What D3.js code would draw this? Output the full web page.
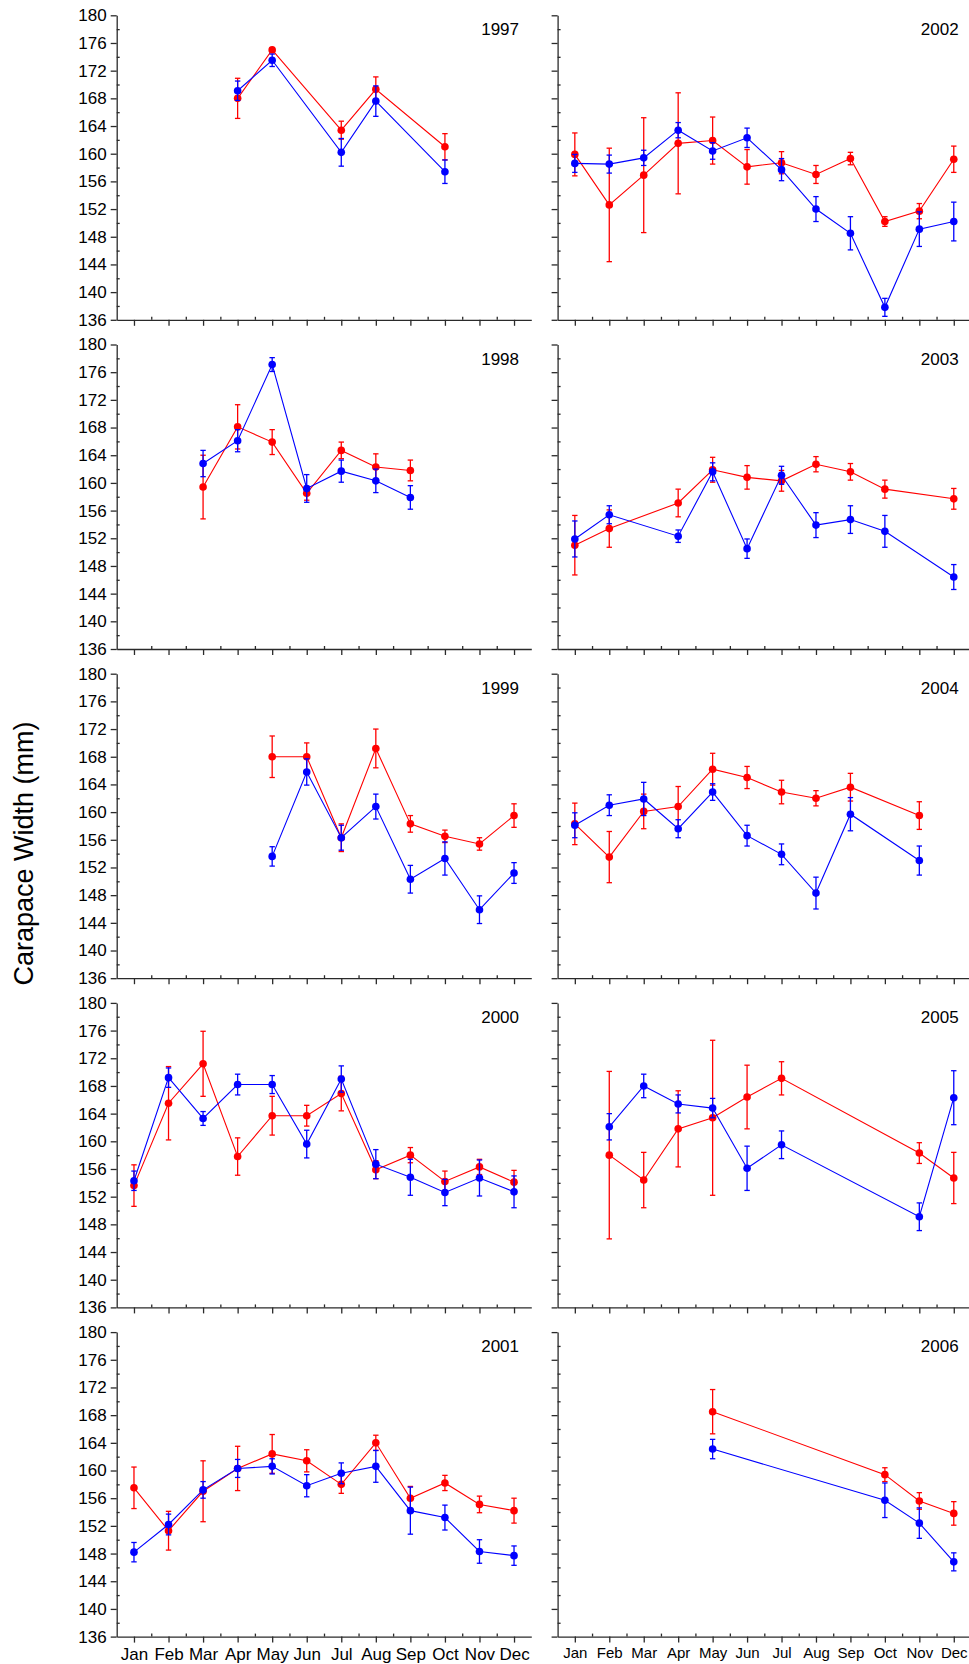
<!DOCTYPE html>
<html>
<head>
<meta charset="utf-8">
<script src="https://cdnjs.cloudflare.com/ajax/libs/d3/7.8.5/d3.min.js"></script>
<style>
  body { margin: 0; background: #fff; }
  text { font-family: "Liberation Sans", Arial, sans-serif; fill: #000; }
</style>
</head>
<body>
<div id="chart"></div>
<script>
var months = ["Jan", "Feb", "Mar", "Apr", "May", "Jun", "Jul", "Aug", "Sep", "Oct", "Nov", "Dec"];
var yTicks = [136, 140, 144, 148, 152, 156, 160, 164, 168, 172, 176, 180];
var leftYears = [1997, 1998, 1999, 2000, 2001];
var rightYears = [2002, 2003, 2004, 2005, 2006];

// mean carapace width per month (null = no sample), red and blue series, with error bars
var red1997     = [null, null, null, 168.0, 175.0, null, 163.4, 169.3, null, 161.0, null, null];
var redErr1997  = [null, null, null, 2.9, 0.3, null, 1.3, 1.8, null, 1.9, null, null];
var blue1997    = [null, null, null, 169.1, 173.5, null, 160.2, 167.6, null, 157.4, null, null];
var blueErr1997 = [null, null, null, 1.4, 0.9, null, 2.0, 2.2, null, 1.7, null, null];

var red1998     = [null, null, 159.4, 168.1, 165.9, 158.5, 164.7, 162.3, 161.8, null, null, null];
var redErr1998  = [null, null, 4.6, 3.2, 1.8, 1.0, 1.2, 1.9, 1.5, null, null, null];
var blue1998    = [null, null, 162.8, 166.1, 177.1, 159.2, 161.7, 160.3, 157.9, null, null, null];
var blueErr1998 = [null, null, 1.9, 1.6, 1.0, 2.0, 1.6, 1.7, 1.7, null, null, null];

var red1999     = [null, null, null, null, 168.0, 168.0, 156.3, 169.2, 158.3, 156.5, 155.4, 159.5];
var redErr1999  = [null, null, null, null, 3.0, 2.0, 2.0, 2.8, 1.2, 0.9, 0.9, 1.7];
var blue1999    = [null, null, null, null, 153.6, 165.8, 156.3, 160.8, 150.3, 153.3, 145.9, 151.2];
var blueErr1999 = [null, null, null, null, 1.4, 1.9, 1.8, 1.8, 2.0, 2.4, 2.0, 1.5];

var red2000     = [153.6, 165.5, 171.2, 157.8, 163.7, 163.7, 166.9, 155.9, 158.0, 154.2, 156.3, 154.1];
var redErr2000  = [3.0, 5.3, 4.7, 2.7, 2.8, 1.5, 2.5, 1.3, 1.1, 1.5, 1.1, 1.7];
var blue2000    = [154.3, 169.2, 163.3, 168.2, 168.2, 159.6, 169.0, 156.7, 154.8, 152.6, 154.7, 152.7];
var blueErr2000 = [1.4, 1.4, 1.0, 1.5, 1.3, 2.0, 1.9, 2.1, 2.6, 1.9, 2.6, 2.3];

var red2001     = [157.5, 151.3, 157.0, 160.3, 162.4, 161.4, 158.0, 164.0, 156.0, 158.2, 155.1, 154.2];
var redErr2001  = [3.0, 2.8, 4.4, 3.2, 2.8, 1.6, 1.3, 1.1, 1.7, 1.1, 1.2, 1.8];
var blue2001    = [148.2, 152.2, 157.2, 160.3, 160.6, 157.8, 159.6, 160.6, 154.2, 153.2, 148.3, 147.7];
var blueErr2001 = [1.4, 1.5, 1.2, 1.3, 1.1, 1.6, 1.5, 2.3, 3.4, 1.8, 1.7, 1.4];

var red2002     = [159.9, 152.6, 156.9, 161.5, 161.9, 158.1, 158.7, 157.0, 159.3, 150.2, 151.7, 159.2];
var redErr2002  = [3.1, 8.2, 8.3, 7.3, 3.4, 2.5, 1.6, 1.3, 0.9, 0.7, 1.1, 1.9];
var blue2002    = [158.6, 158.5, 159.4, 163.4, 160.4, 162.3, 157.7, 152.0, 148.5, 137.8, 149.1, 150.2];
var blueErr2002 = [1.3, 1.3, 1.1, 1.1, 1.2, 1.4, 1.6, 1.8, 2.4, 1.3, 2.5, 2.8];

var red2003     = [151.0, 153.4, null, 157.1, 161.9, 160.8, 160.3, 162.7, 161.6, 159.1, null, 157.7];
var redErr2003  = [4.3, 2.7, null, 2.0, 1.8, 1.7, 1.5, 1.1, 1.2, 1.3, null, 1.5];
var blue2003    = [151.9, 155.4, null, 152.3, 161.6, 150.5, 161.1, 153.9, 154.7, 153.0, null, 146.4];
var blueErr2003 = [2.6, 1.3, null, 0.9, 1.3, 1.4, 1.3, 1.8, 2.0, 2.3, null, 1.8];

var red2004     = [158.3, 153.5, 160.1, 160.8, 166.2, 165.0, 162.9, 162.0, 163.6, null, 159.5, null];
var redErr2004  = [3.0, 3.7, 2.5, 2.9, 2.3, 1.6, 1.7, 1.1, 2.0, null, 2.0, null];
var blue2004    = [158.1, 161.0, 161.9, 157.6, 162.9, 156.6, 153.9, 148.3, 159.7, null, 153.0, null];
var blueErr2004 = [1.8, 1.5, 2.4, 1.3, 1.2, 1.5, 1.5, 2.3, 2.4, null, 2.1, null];

var red2005     = [null, 158.0, 154.4, 161.8, 163.4, 166.4, 169.1, null, null, null, 158.3, 154.7];
var redErr2005  = [null, 12.1, 4.0, 5.5, 11.2, 4.6, 2.4, null, null, null, 1.5, 3.7];
var blue2005    = [null, 162.1, 168.0, 165.4, 164.8, 156.1, 159.5, null, null, null, 149.1, 166.3];
var blueErr2005 = [null, 1.9, 1.7, 1.3, 1.4, 3.2, 2.0, null, null, null, 2.0, 3.9];

var red2006     = [null, null, null, null, 168.5, null, null, null, null, 159.4, 155.6, 153.8];
var redErr2006  = [null, null, null, null, 3.2, null, null, null, null, 1.0, 1.2, 1.7];
var blue2006    = [null, null, null, null, 163.1, null, null, null, null, 155.7, 152.4, 146.8];
var blueErr2006 = [null, null, null, null, 1.4, null, null, null, null, 2.5, 2.2, 1.3];

var panels = {
    1997: [red1997, redErr1997, blue1997, blueErr1997],
    1998: [red1998, redErr1998, blue1998, blueErr1998],
    1999: [red1999, redErr1999, blue1999, blueErr1999],
    2000: [red2000, redErr2000, blue2000, blueErr2000],
    2001: [red2001, redErr2001, blue2001, blueErr2001],
    2002: [red2002, redErr2002, blue2002, blueErr2002],
    2003: [red2003, redErr2003, blue2003, blueErr2003],
    2004: [red2004, redErr2004, blue2004, blueErr2004],
    2005: [red2005, redErr2005, blue2005, blueErr2005],
    2006: [red2006, redErr2006, blue2006, blueErr2006]
};

function init() {
    var w = 969;
    var h = 1664;
    var panelH = 304.5;
    var rowStep = 329.2;
    var top0 = 15.3;
    var axisColor = "#2a2a2a";

    var svg = d3.select("#chart")
                .append("svg")
                .attr("width", w)
                .attr("height", h)
                .style("display", "block");

    svg.append("rect")
       .attr("width", w)
       .attr("height", h)
       .attr("fill", "#fff");

    var xLeft = d3.scaleLinear().domain([0.5, 12.5]).range([116.7, 531.3]);
    var xRight = d3.scaleLinear().domain([0.5, 12.5]).range([557.6, 971]);

    function toPoints(vals, errs) {
        var pts = [];
        vals.forEach(function(v, i) {
            if (v !== null) pts.push({ m: i + 1, v: v, e: errs[i] });
        });
        return pts;
    }

    function drawSeries(g, x, y, pts, color) {
        var cap = 2.7;
        var eb = g.append("g");
        pts.forEach(function(d) {
            var cx = x(d.m);
            eb.append("line")
              .attr("x1", cx).attr("x2", cx)
              .attr("y1", y(d.v - d.e)).attr("y2", y(d.v + d.e))
              .attr("stroke", color).attr("stroke-width", 1.3);
            [d.v - d.e, d.v + d.e].forEach(function(t) {
                eb.append("line")
                  .attr("x1", cx - cap).attr("x2", cx + cap)
                  .attr("y1", y(t)).attr("y2", y(t))
                  .attr("stroke", color).attr("stroke-width", 1.3);
            });
        });

        var line = d3.line()
                     .x(function(d) { return x(d.m); })
                     .y(function(d) { return y(d.v); });

        g.append("path")
         .datum(pts)
         .attr("d", line)
         .attr("fill", "none")
         .attr("stroke", color)
         .attr("stroke-width", 1.1);

        g.selectAll(null)
         .data(pts)
         .enter()
         .append("circle")
         .attr("cx", function(d) { return x(d.m); })
         .attr("cy", function(d) { return y(d.v); })
         .attr("r", 3.8)
         .attr("fill", color);
    }

    function drawPanel(year, col, row) {
        var x = col === 0 ? xLeft : xRight;
        var top = top0 + row * rowStep;
        var y = d3.scaleLinear().domain([136, 180]).range([top + panelH, top]);
        var g = svg.append("g");
        var last = row === 4;

        // y axis: major ticks outside, minor ticks inside
        var yAxis = d3.axisLeft(y)
                      .tickValues(yTicks)
                      .tickSize(6)
                      .tickSizeOuter(0)
                      .tickPadding(4);
        if (col === 1) yAxis.tickFormat("");
        var ya = g.append("g")
                  .attr("transform", "translate(" + x.range()[0] + ",0)")
                  .call(yAxis);
        ya.selectAll("text").style("font-size", "17px");

        g.append("g")
         .attr("transform", "translate(" + x.range()[0] + ",0)")
         .call(d3.axisRight(y).tickValues(d3.range(138, 180, 4)).tickSize(3).tickFormat(""))
         .call(function(s) { s.select(".domain").remove(); });

        // x axis
        var xAxis = d3.axisBottom(x)
                      .tickValues(d3.range(1, 13))
                      .tickSize(6)
                      .tickSizeOuter(0)
                      .tickPadding(5)
                      .tickFormat(function(d) { return last ? months[d - 1] : ""; });
        var xa = g.append("g")
                  .attr("transform", "translate(0," + (top + panelH) + ")")
                  .call(xAxis);
        xa.selectAll("text").style("font-size", col === 0 ? "17px" : "15px");

        g.append("g")
         .attr("transform", "translate(0," + (top + panelH) + ")")
         .call(d3.axisTop(x).tickValues(d3.range(1.5, 12.5, 1)).tickSize(3).tickFormat(""))
         .call(function(s) { s.select(".domain").remove(); });

        g.selectAll(".domain, .tick line")
         .attr("stroke", axisColor)
         .attr("stroke-width", 1.3);

        g.append("text")
         .attr("x", x.range()[1] - 12.3)
         .attr("y", top + 20)
         .attr("text-anchor", "end")
         .style("font-size", "17px")
         .text(year);

        var s = panels[year];
        drawSeries(g, x, y, toPoints(s[0], s[1]), "#ff0000");
        drawSeries(g, x, y, toPoints(s[2], s[3]), "#0000ff");
    }

    leftYears.forEach(function(yr, i) { drawPanel(yr, 0, i); });
    rightYears.forEach(function(yr, i) { drawPanel(yr, 1, i); });

    svg.append("text")
       .attr("transform", "translate(33,853.5) rotate(-90)")
       .attr("text-anchor", "middle")
       .style("font-size", "27px")
       .text("Carapace Width (mm)");
}

window.onload = init;
</script>
</body>
</html>
